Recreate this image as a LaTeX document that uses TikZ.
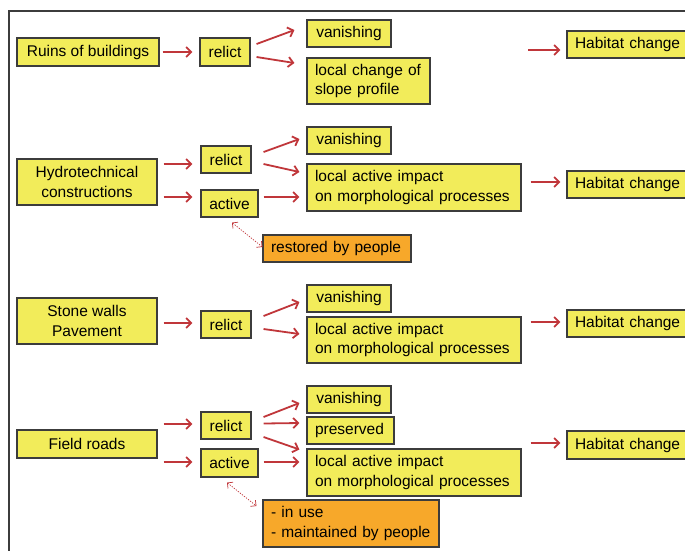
\documentclass[tikz,border=0pt]{standalone}
\usepackage{fontspec}
\setmainfont{Liberation Sans}
\usetikzlibrary{arrows.meta,calc}
\definecolor{yel}{HTML}{F2EC5A}
\definecolor{org}{HTML}{F7A82A}
\definecolor{bord}{HTML}{3C3C3C}
\definecolor{arrred}{HTML}{C0363A}
\begin{document}
\begin{tikzpicture}[x=1pt,y=-1pt,
  box/.style={draw=bord, line width=1.1pt, fill=yel, inner sep=0pt, align=center,
    font=\fontsize{15.5pt}{19.5pt}\selectfont},
  lbox/.style={box, align=left, inner xsep=8pt, inner ysep=0pt},
  obox/.style={lbox, fill=org},
  arr/.style={draw=arrred, line width=1.8pt, -{Straight Barb[length=5pt,width=10pt]}},
  darr/.style={draw=arrred, line width=0.7pt, dash pattern=on 1.3pt off 1.3pt,
    {Straight Barb[length=4pt,width=8pt]}-{Straight Barb[length=4pt,width=8pt]}}]
\useasboundingbox (0,0) rectangle (685,550);
\clip (0,0) rectangle (685,550);
\draw[bord, line width=1.2pt] (9,11) rectangle (720,600);

% Row 1
\node[box, minimum width=142pt, minimum height=28pt] (ruins) at (88,52) {Ruins of buildings};
\node[box, minimum width=50pt, minimum height=28pt] (relA) at (225,52) {relict};
\node[box, minimum width=84pt, minimum height=27pt] (vanA) at (349,33.5) {vanishing};
\node[lbox, text width=107pt, minimum height=46pt] (locA) at (368.5,81) {local change of\\slope profile};
\node[box, minimum width=123pt, minimum height=27pt, text width=107pt, align=left, inner xsep=8pt] (habA) at (628.5,44.5) {Habitat change};
\coordinate (habAin) at (528,50);

% Row 2
\node[box, minimum width=140pt, minimum height=46pt] (hydro) at (87,182) {Hydrotechnical\\constructions};
\node[box, minimum width=50pt, minimum height=27pt] (relB) at (226,159.5) {relict};
\node[box, minimum width=57pt, minimum height=27pt] (actB) at (229.5,203.5) {active};
\node[box, minimum width=84pt, minimum height=27pt] (vanB) at (349,140.5) {vanishing};
\node[lbox, text width=198pt, minimum height=47pt] (locB) at (414,187.5) {local active impact\\on morphological processes};
\node[obox, text width=132pt, minimum height=27pt] (rest) at (337,248.5) {restored by people};
\node[box, minimum width=123pt, minimum height=27pt, text width=107pt, align=left, inner xsep=8pt] (habB) at (628.5,184.5) {Habitat change};

% Row 3
\node[box, minimum width=140pt, minimum height=46pt] (stone) at (87,321) {Stone walls\\Pavement};
\node[box, minimum width=50pt, minimum height=27pt] (relC) at (226,324.5) {relict};
\node[box, minimum width=84pt, minimum height=27pt] (vanC) at (349,298.5) {vanishing};
\node[lbox, text width=198pt, minimum height=46pt] (locC) at (414,340) {local active impact\\on morphological processes};
\node[box, minimum width=123pt, minimum height=27pt, text width=107pt, align=left, inner xsep=8pt] (habC) at (628.5,323.5) {Habitat change};

% Row 4
\node[box, minimum width=140pt, minimum height=28pt] (field) at (87,444) {Field roads};
\node[box, minimum width=50pt, minimum height=27pt] (relD) at (226,425.5) {relict};
\node[box, minimum width=57pt, minimum height=28pt] (actD) at (229.5,463) {active};
\node[box, minimum width=84pt, minimum height=27pt] (vanD) at (349,399.5) {vanishing};
\node[lbox, text width=71pt, minimum height=27pt] (presD) at (350.5,430.5) {preserved};
\node[lbox, text width=198pt, minimum height=47pt] (locD) at (414,472.5) {local active impact\\on morphological processes};
\node[obox, text width=160pt, minimum height=47pt] (maint) at (351,523.5) {- in use\\- maintained by people};
\node[box, minimum width=123pt, minimum height=28pt, text width=107pt, align=left, inner xsep=8pt] (habD) at (628.5,445) {Habitat change};

% Arrows row 1
\draw[arr] ([xshift=3pt]ruins.east) -- ([xshift=-7pt]relA.west);
\draw[arr] ([shift={(6,-8)}]relA.east) -- ([shift={(-12,-3.5)}]vanA.west);
\draw[arr] ([shift={(6,5)}]relA.east) -- ([shift={(-12,-18)}]locA.west);
\draw[arr] (habAin) -- ($(habA.west|-habAin)+(-6,0)$);

% Arrows row 2
\draw[arr] ([shift={(6,-18)}]hydro.east) -- ([shift={(-8,4.5)}]relB.west);
\draw[arr] ([shift={(6,15)}]hydro.east) -- ([shift={(-8,-6.5)}]actB.west);
\draw[arr] ([shift={(12,-7.5)}]relB.east) -- ([shift={(-7,-1.5)}]vanB.west);
\draw[arr] ([shift={(12,4.5)}]relB.east) -- ([shift={(-7,-15.5)}]locB.west);
\draw[arr] ([shift={(5,-6.5)}]actB.east) -- ([shift={(-7,9.5)}]locB.west);
\draw[darr] ([shift={(2.5,5)}]actB.south) -- ([shift={(0,-1.5)}]rest.west);
\draw[arr] ($(locB.east|-habB.west)+(9,-2.5)$) -- ([shift={(-6,-2.5)}]habB.west);

% Arrows row 3
\draw[arr] ([shift={(6,2)}]stone.east) -- ([shift={(-8,-1.5)}]relC.west);
\draw[arr] ([shift={(12,-8.5)}]relC.east) -- ([shift={(-7,3.5)}]vanC.west);
\draw[arr] ([shift={(12,4.5)}]relC.east) -- ([shift={(-7,-6)}]locC.west);
\draw[arr] ($(locC.east|-habC.west)+(9,-1.5)$) -- ([shift={(-6,-1.5)}]habC.west);

% Arrows row 4
\draw[arr] ([shift={(6,-20)}]field.east) -- ([shift={(-8,-1.5)}]relD.west);
\draw[arr] ([shift={(6,18)}]field.east) -- ([shift={(-8,-1)}]actD.west);
\draw[arr] ([shift={(12,-8.5)}]relD.east) -- ([shift={(-7,3.5)}]vanD.west);
\draw[arr] ([shift={(12,-2)}]relD.east) -- ([shift={(-7,-7.5)}]presD.west);
\draw[arr] ([shift={(12,11.5)}]relD.east) -- ([shift={(-7,-23)}]locD.west);
\draw[arr] ([shift={(5,-1)}]actD.east) -- ([shift={(-7,-10.5)}]locD.west);
\draw[darr] ([shift={(-2.5,5)}]actD.south) -- ([shift={(-6,-17.5)}]maint.west);
\draw[arr] ($(locD.east|-habD.west)+(9,-2)$) -- ([shift={(-6,-2)}]habD.west);
\end{tikzpicture}
\end{document}
